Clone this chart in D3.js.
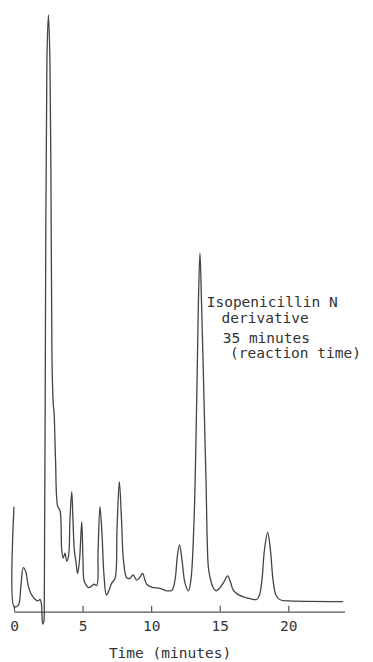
<!DOCTYPE html>
<html>
<head>
<meta charset="utf-8">
<script src="https://cdn.jsdelivr.net/npm/d3@7"></script>
<style>
  body { margin: 0; background: #fff; }
  text { font-family: "DejaVu Sans Mono", monospace; fill: #333; }
</style>
</head>
<body>
<svg width="373" height="662"></svg>
<script>
// detector trace: time (min) and signal (% of full scale)
var times = [0, 0, 0.22, 0.36, 0.51, 0.68, 0.87, 1.02, 1.24, 1.53, 1.75, 1.9, 2.0, 2.09, 2.17,
  2.21, 2.30, 2.40, 2.51, 2.62, 2.72, 2.77, 2.87, 2.92, 3.03, 3.19, 3.35, 3.48, 3.59, 3.72,
  3.84, 3.97, 4.08, 4.21, 4.30, 4.40, 4.52, 4.64, 4.78, 4.94, 5.03, 5.10, 5.25, 5.42, 5.61,
  5.83, 6.03, 6.13, 6.27, 6.42, 6.56, 6.74, 6.93, 7.12, 7.37, 7.51, 7.68, 7.84, 7.98, 8.22,
  8.46, 8.68, 8.95, 9.19, 9.37, 9.68, 10.04, 10.65, 11.13, 11.52, 11.74, 11.92, 12.07, 12.25,
  12.47, 12.72, 12.90, 13.13, 13.31, 13.45, 13.56, 13.67, 13.82, 14.0, 14.17, 14.29, 14.51,
  14.73, 15.02, 15.31, 15.58, 15.78, 15.99, 16.33, 16.72, 17.21, 17.70, 17.90, 18.08, 18.26,
  18.50, 18.70, 18.89, 19.10, 19.40, 20.12, 24.0];
var signal = [17.6, 0.84, 0.87, 1.3, 4.5, 7.4, 6.65, 4.5, 3.0, 2.1, 1.8, 2.05, 1.3, -2.06, -1.7,
  2.0, 52.2, 92.5, 100, 92.5, 60.6, 42.2, 34.6, 33.5, 25.4, 17.6, 17.0, 10.4, 9.0, 9.8,
  8.5, 9.2, 15.4, 20.1, 15.4, 10.3, 8.3, 6.4, 8.7, 15.1, 8.7, 5.3, 4.5, 4.05, 4.2,
  4.6, 4.4, 10.3, 17.6, 12.9, 6.15, 2.8, 3.6, 4.76, 5.6, 13.7, 21.8, 15.4, 8.7, 5.7,
  5.6, 6.15, 5.3, 5.8, 6.4, 4.6, 4.1, 3.9, 3.5, 3.6, 5.3, 9.5, 11.2, 8.7,
  4.8, 3.5, 5.3, 15.4, 33.8, 52.2, 60.1, 52.2, 38.8, 22.1, 7.5, 5.8, 4.1,
  3.5, 4.0, 5.0, 6.0, 5.0, 3.6, 2.9, 2.5, 2.2, 2.05, 2.8, 5.3, 10.3,
  13.3, 10.3, 5.3, 2.8, 2.0, 1.8, 1.7];
var tickValues = [0, 5, 10, 15, 20];
var axisTitle = "Time (minutes)";
var noteLines = ["Isopenicillin N", "derivative", "35 minutes", "(reaction time)"];

var svg = d3.select("svg");

var xScale = d3.scaleLinear().domain([0, 24.1]).range([14, 344.5]);
var yScale = d3.scaleLinear().domain([0, 100]).range([611.7, 15]);

var points = times.map((t, i) => [t, signal[i]]);

var trace = d3.line()
  .x(d => xScale(d[0]))
  .y(d => yScale(d[1]))
  .curve(d3.curveCatmullRom.alpha(0.5));

// axis first so the trace sits on top
var xAxis = d3.axisBottom(xScale)
  .tickValues(tickValues)
  .tickSizeInner(-6)
  .tickSizeOuter(0)
  .tickPadding(9);

var gx = svg.append("g")
  .attr("transform", "translate(0," + yScale(0) + ")")
  .call(xAxis);
gx.select(".domain").attr("stroke", "#555").attr("stroke-width", 1.2);
gx.selectAll(".tick line").attr("stroke", "#555").attr("stroke-width", 1.2);
gx.selectAll(".tick text")
  .style("font-family", "'DejaVu Sans Mono', monospace")
  .style("font-size", "14.5px")
  .attr("fill", "#333");

svg.append("text")
  .attr("x", 170)
  .attr("y", 658)
  .attr("text-anchor", "middle")
  .style("font-size", "14.5px")
  .text(axisTitle);

svg.append("path")
  .datum(points)
  .attr("fill", "none")
  .attr("stroke", "#444")
  .attr("stroke-width", 1.3)
  .attr("stroke-linejoin", "round")
  .attr("d", trace);

// peak label, typed beside the big peak
var noteX = [206.7, 221.5, 222.7, 230];
var noteY = [306.5, 323, 342.5, 358];
svg.selectAll(".note")
  .data(noteLines)
  .enter().append("text")
  .attr("class", "note")
  .attr("x", (d, i) => noteX[i])
  .attr("y", (d, i) => noteY[i])
  .style("font-size", "14.5px")
  .text(d => d);
</script>
</body>
</html>
